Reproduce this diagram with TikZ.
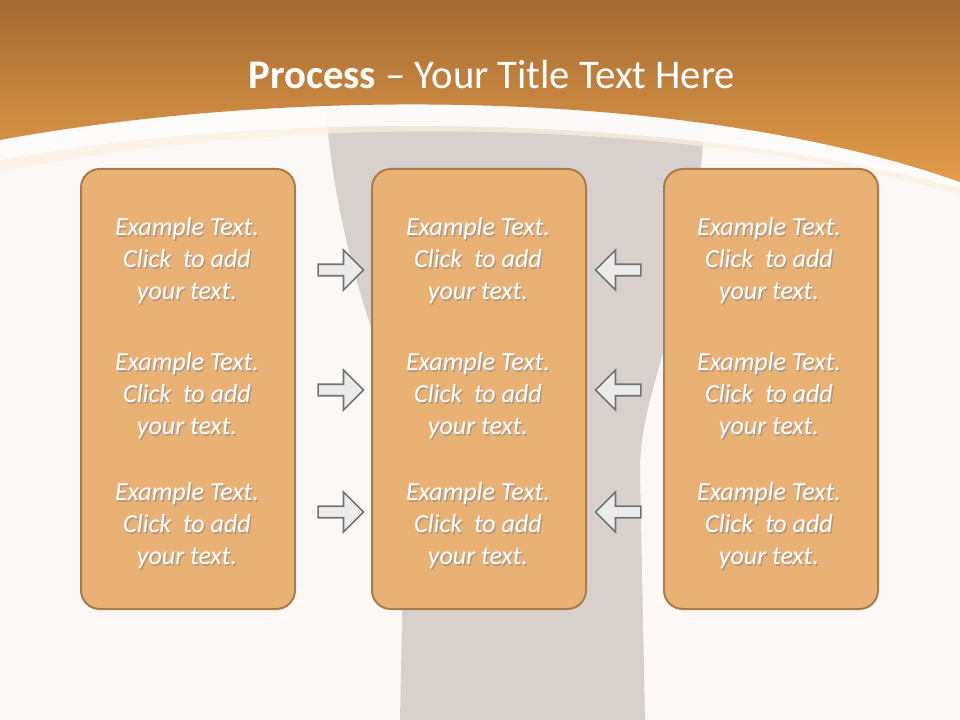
\documentclass[tikz,border=0pt]{standalone}
\usepackage{fontspec}
\setmainfont{Carlito}
\usetikzlibrary{shapes.arrows,shadows}
\definecolor{boxfill}{HTML}{E9B174}
\definecolor{boxline}{HTML}{A87C4C}
\definecolor{hdrtop}{HTML}{A56A32}
\definecolor{hdrbot}{HTML}{E39C4A}
\definecolor{bgc}{HTML}{FBF8F6}
\definecolor{leg}{HTML}{CEC7C2}
\tikzset{
  card/.style={draw=boxline,line width=1.5pt,fill=boxfill,rounded corners=14pt,minimum width=160.5pt,minimum height=330pt,anchor=north west},
  cardtext/.style={text=white,font=\itshape\fontsize{19.5}{24}\selectfont,align=center},
  shad/.style={text=black!45,opacity=0.6,font=\itshape\fontsize{19.5}{24}\selectfont,align=center},
  parrow/.style={single arrow,draw=black!55,line width=1.2pt,fill=white!92!black,minimum height=34pt,minimum width=30pt,single arrow head extend=4pt,inner sep=1pt},
}
\begin{document}
\begin{tikzpicture}[x=0.75pt,y=-0.75pt]
\useasboundingbox (0,0) rectangle (960,720);
\fill[bgc] (0,0) rectangle (960,720);
% grey silhouette
\fill[leg,opacity=0.8] (325,100) .. controls (340,300) and (405,380) .. (405,470) -- (400,720) -- (645,720) -- (640,470) .. controls (640,380) and (700,300) .. (705,100) -- cycle;
% light band
\fill[white!85!hdrbot,opacity=0.7] (0,0) -- (960,0) -- (960,195) .. controls (700,120) and (300,110) .. (0,172) -- cycle;
\fill[white,opacity=0.8] (0,0) -- (960,0) -- (960,188) .. controls (700,118) and (300,105) .. (0,160) -- cycle;
% header
\shade[top color=hdrtop,bottom color=hdrbot] (0,0) -- (960,0) -- (960,182) .. controls (700,90) and (300,85) .. (0,140) -- cycle;
\node (title) at (492,75) {\color{white}\fontsize{30.5}{34}\selectfont\textbf{Process} – Your Title Text Here};
% cards
\node[card] (L) at (80,168) {};
\node[card] (M) at (371,168) {};
\node[card] (R) at (663,168) {};
\foreach \c/\x in {L/187,M/478,R/769}{
  \foreach \y [count=\i] in {261,396,526}{
    \node[shad] at (\x+1.5,\y+2) {Example Text.\\Click\ \ to add\\your text.};
    \node[cardtext] (\c\i) at (\x,\y) {Example Text.\\Click\ \ to add\\your text.};
  }
}
% arrows
\foreach \y [count=\i] in {270,390,512}{
  \node[parrow] (ar\i) at (338,\y) {};
  \node[parrow,shape border rotate=180] (al\i) at (621,\y) {};
}
\end{tikzpicture}
\end{document}
